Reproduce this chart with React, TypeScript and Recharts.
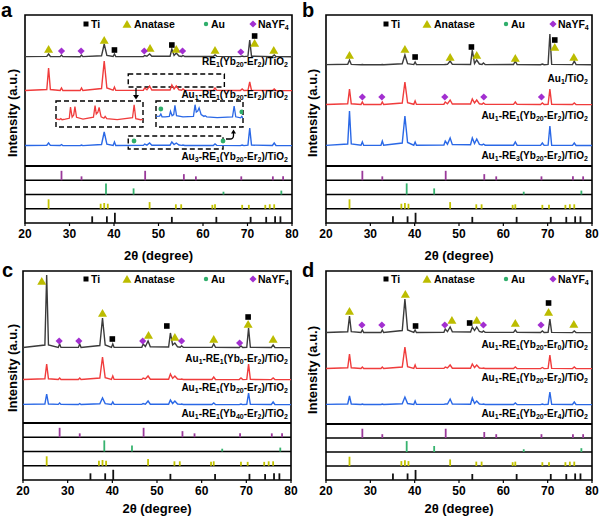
import React from 'react';
import {
  ComposedChart,
  LineChart,
  Line,
  Scatter,
  XAxis,
  YAxis,
  ReferenceLine,
  ReferenceArea,
} from 'recharts';

const FONT = '"Liberation Sans", Arial, Helvetica, sans-serif';
const BLACK = '#3b3b3b';
const RED = '#f03c3c';
const BLUE = '#2a68e6';
const TI_C = '#000000';
const ANA_C = '#bcbc00';
const AU_C = '#2fae6b';
const NAYF_C = '#a22fd0';

// 2θ sampling shared by all patterns
const twoTheta = [20, 24.9, 25.3, 25.7, 27.9, 28.2, 28.5, 32.4, 32.7, 33.0, 37.2, 37.8, 38.4, 39.8, 40.1, 40.4,
  46.6, 46.9, 47.4, 48.0, 48.5, 52.6, 53.0, 53.5, 54.0, 54.6, 55.2, 55.5, 55.9, 62.3, 62.7, 63.1,
  68.4, 68.8, 69.2, 70.1, 70.5, 70.9, 75.6, 76.0, 76.4, 80];

// panel a
const aRE1 = [0.4, 0.6, 3, 0.5, 0.4, 2, 0.4, 0.3, 2, 0.4, 1.2, 13, 1.5, 0.5, 3, 0.4, 0.5, 1.5, 0.8, 3, 0.7,
  0.8, 8, 1.5, 4, 1, 0.6, 1.5, 0.5, 0.5, 2, 0.6, 0.4, 1, 0.4, 0.8, 17, 0.8, 0.4, 2, 0.4, 0.3];
const aAu1 = [0.5, 1.5, 23, 1.5, 0.6, 3, 0.5, 0.5, 3, 0.5, 2.5, 30, 3, 0.8, 4, 0.6, 0.8, 3, 1.2, 5, 1,
  1, 6, 2, 5, 1.2, 0.8, 2, 0.6, 0.6, 3, 0.6, 0.5, 2, 0.5, 0.6, 9, 0.6, 0.5, 2, 0.4, 0.4];
const aAu3 = [0.5, 0.7, 3, 0.6, 0.5, 1.5, 0.5, 0.4, 1, 0.4, 1.5, 14, 1.8, 0.6, 4, 0.5, 0.6, 2, 0.9, 3, 0.8,
  0.8, 4, 1.5, 3, 1, 0.6, 1, 0.5, 0.5, 2, 0.6, 0.4, 1, 0.4, 0.9, 18, 0.9, 0.5, 3, 0.5, 0.4];

// panel b
const bAu1 = [0.4, 0.8, 5, 0.6, 0.3, 0.5, 0.3, 0.3, 0.5, 0.3, 1.2, 10, 1.3, 0.4, 3, 0.4, 0.4, 0.5, 0.6, 4, 0.6,
  0.5, 15, 1.5, 5, 1, 0.6, 2, 0.4, 0.5, 4, 0.5, 0.3, 1, 0.3, 0.6, 31, 0.6, 0.4, 4, 0.4, 0.3];
const bAu1RE1 = [0.5, 1.2, 16, 1.2, 0.6, 3, 0.5, 0.5, 3, 0.5, 2, 23, 2.4, 0.7, 4, 0.6, 0.8, 3, 1.2, 5, 1,
  1, 6, 2, 5, 1.2, 0.8, 2, 0.6, 0.6, 3, 0.6, 0.5, 2, 0.5, 0.6, 16, 0.6, 0.5, 2, 0.4, 0.4];
const bAu1RE3 = [0.6, 2, 35, 2, 0.7, 4, 0.6, 0.7, 5, 0.7, 3, 30, 3.5, 0.8, 4, 0.7, 1, 5, 1.8, 8, 1.4,
  1.2, 8, 2.5, 7, 1.6, 1, 2, 0.8, 0.8, 4, 0.8, 0.6, 3, 0.6, 0.8, 20, 0.8, 0.6, 3, 0.5, 0.5];

// panel c
const cYb0 = [0.5, 3, 73, 3, 0.6, 4, 0.6, 0.6, 4, 0.6, 2.5, 30, 3, 0.6, 4, 0.6, 0.8, 4, 1.5, 7, 1.2,
  1, 15, 3, 5, 1.2, 0.8, 2, 0.6, 0.6, 4, 0.6, 0.5, 2, 0.5, 0.7, 20, 0.7, 0.5, 3, 0.5, 0.4];
const cYb20 = [0.5, 1.2, 16, 1.2, 0.5, 2, 0.5, 0.5, 2, 0.5, 2, 23, 2.4, 0.6, 4, 0.6, 0.6, 2, 1, 4, 0.8,
  0.8, 6, 1.6, 4, 1, 0.6, 1, 0.5, 0.5, 3, 0.5, 0.4, 2, 0.4, 0.6, 16, 0.6, 0.4, 2, 0.4, 0.4];
const cYb40 = [0.6, 1, 11, 1, 0.6, 2, 0.6, 0.5, 1.5, 0.5, 1.2, 7, 1.4, 0.6, 3, 0.6, 0.6, 1.5, 0.9, 4, 0.8,
  0.8, 5, 1.5, 4, 1, 0.6, 1, 0.5, 0.5, 2, 0.5, 0.4, 1, 0.4, 0.7, 12, 0.7, 0.5, 3, 0.5, 0.4];

// panel d
const dEr0 = [0.5, 1.3, 17, 1.3, 0.6, 3, 0.5, 0.5, 3, 0.5, 2.5, 34, 3, 0.6, 3, 0.5, 0.8, 4, 1.4, 6, 1.1,
  1, 6, 2.5, 6, 1.5, 0.8, 2, 0.6, 0.6, 3, 0.6, 0.5, 2, 0.5, 0.6, 14, 0.6, 0.4, 2, 0.4, 0.4];
const dEr2 = [0.5, 1.2, 15, 1.2, 0.5, 2, 0.5, 0.5, 2, 0.5, 2, 22, 2.4, 0.6, 4, 0.6, 0.6, 2, 1, 4, 0.8,
  0.8, 5, 1.5, 4, 1, 0.6, 1, 0.5, 0.5, 2, 0.5, 0.4, 1.5, 0.4, 0.6, 14, 0.6, 0.4, 2, 0.4, 0.4];
const dEr4 = [0.6, 1, 9, 1, 0.5, 1, 0.5, 0.5, 1, 0.5, 1.3, 8, 1.5, 0.6, 4, 0.6, 0.6, 1, 1, 6, 0.9,
  0.8, 7, 1.5, 4, 1, 0.6, 1, 0.5, 0.5, 2, 0.5, 0.4, 1, 0.4, 0.7, 13, 0.7, 0.5, 3, 0.5, 0.4];

// inset of panel a (zoom 43-65°)
const insetTheta = [43.3, 44.2, 44.5, 44.8, 45.6, 46.6, 46.9, 47.3, 47.7, 48.0, 48.4, 50.0, 52.6, 53.0,
  53.3, 53.7, 54.0, 54.5, 55.2, 55.5, 55.9, 58.5, 62.3, 62.7, 63.1, 64.3, 64.6, 64.9];
const insetRed = [0.18, 0.15, 0.2, 0.14, 0.17, 0.22, 0.82, 0.28, 0.4, 0.85, 0.27, 0.17, 0.28, 0.9,
  0.45, 0.55, 0.8, 0.3, 0.22, 0.32, 0.2, 0.15, 0.25, 0.95, 0.2, 0.14, 0.16, 0.13];
const insetBlue = [0.32, 0.34, 0.45, 0.3, 0.3, 0.32, 0.6, 0.36, 0.42, 0.92, 0.36, 0.3, 0.32, 0.95,
  0.55, 0.62, 0.78, 0.42, 0.32, 0.36, 0.3, 0.26, 0.3, 0.88, 0.3, 0.24, 0.32, 0.22];
const insetAu = [[44.5, 0.72], [64.6, 0.56]];

// phase markers [2θ, level]
const aTi = [[40.1, 116], [53.0, 121], [71.6, 130]];
const aAna = [[25.3, 117], [37.8, 126], [48.1, 118], [54.0, 117], [62.7, 116], [71.6, 123], [75.9, 116]];
const aNayf = [[28.2, 115], [32.6, 115], [46.8, 115], [55.4, 115], [68.5, 114]];
const aAu = [[44.5, 25], [64.5, 25]];
const bTi = [[40.1, 109], [52.8, 119], [71.6, 126]];
const bAna = [[25.3, 111], [37.8, 117], [48.0, 109], [54.0, 111], [62.7, 108], [71.6, 119], [75.9, 109]];
const bNayf = [[28.2, 69], [32.6, 69], [46.8, 69], [55.6, 69], [68.6, 69]];
const cTi = [[40.0, 84], [52.2, 97], [70.4, 106]];
const cAna = [[24.2, 142], [37.8, 110], [48.1, 88], [54.0, 86], [62.7, 84], [70.4, 99], [76.0, 84]];
const cNayf = [[28.1, 82], [32.5, 82], [46.8, 82], [55.5, 82], [68.5, 80]];
const dTi = [[40.2, 98], [52.4, 101], [70.2, 121]];
const dAna = [[25.3, 113], [37.9, 130], [48.4, 104], [54.0, 104], [62.7, 101], [70.2, 112], [75.9, 100]];
const dNayf = [[28.1, 99], [32.6, 99], [46.8, 99], [55.5, 99], [68.5, 99]];

// standard cards [2θ, relative intensity]
const nayf4Card = [[28.2, 85], [32.7, 35], [47.0, 85], [55.7, 55], [58.4, 35], [68.6, 35], [75.7, 35], [78.0, 35]];
const auCard = [[38.2, 100], [44.4, 55], [64.6, 25], [77.6, 35]];
const anataseCard = [[25.3, 85], [37.0, 45], [37.8, 52], [38.6, 45], [48.0, 60], [53.9, 40], [55.1, 40],
  [62.1, 35], [62.7, 40], [68.8, 35], [70.3, 35], [74.0, 35], [75.0, 40], [76.0, 40]];
const tiCard = [[35.1, 60], [38.4, 60], [40.2, 92], [53.0, 55], [63.0, 55], [70.7, 55], [74.2, 55], [76.2, 60], [77.4, 60]];

const xTicks = [20, 30, 40, 50, 60, 70, 80];

const cards = [
  { pts: nayf4Card, color: '#9a3a9a' },
  { pts: auCard, color: '#37b36f' },
  { pts: anataseCard, color: '#c4c400' },
  { pts: tiCard, color: '#111111' },
];

const toRows = (vals: number[], offset: number) => twoTheta.map((x, i) => ({ x, y: offset + vals[i] }));
const toPts = (arr: number[][]) => arr.map(([x, y]) => ({ x, y }));

const renderSub = (s: string) =>
  s.split(/_(\d+)/).map((part, i) =>
    i % 2 ? (
      <sub key={i} style={{ fontSize: 7, verticalAlign: 'baseline', position: 'relative', top: 2 }}>{part}</sub>
    ) : (
      <span key={i}>{part}</span>
    )
  );

const Tri = (p: any) => (
  <polygon points={`${p.cx - 4.5},${p.cy + 3.8} ${p.cx + 4.5},${p.cy + 3.8} ${p.cx},${p.cy - 4}`} fill={ANA_C} />
);
const Sq = (p: any) => <rect x={p.cx - 2.8} y={p.cy - 2.8} width={5.6} height={5.6} fill={TI_C} />;
const Dia = (p: any) => (
  <polygon points={`${p.cx},${p.cy - 3.6} ${p.cx + 3.6},${p.cy} ${p.cx},${p.cy + 3.6} ${p.cx - 3.6},${p.cy}`} fill={NAYF_C} />
);
const Dot = (p: any) => <circle cx={p.cx} cy={p.cy} r={2.4} fill={AU_C} />;

const panels = [
  {
    id: 'a', left: 0, top: 0, plotLeft: 25, plotRight: 292, plotTop: 15, mainBottom: 166, refBottom: 223,
    legendY: 24, yTitleY: 113, xTitleY: 255,
    series: [
      { values: aRE1, color: BLACK, offset: 109, label: 'RE_1(Yb_20-Er_2)/TiO_2', labelY: 62 },
      { values: aAu1, color: RED, offset: 75, label: 'Au_1-RE_1(Yb_20-Er_2)/TiO_2', labelY: 95 },
      { values: aAu3, color: BLUE, offset: 20, label: 'Au_3-RE_1(Yb_20-Er_2)/TiO_2', labelY: 157 },
    ],
    ti: aTi, ana: aAna, nayf: aNayf, au: aAu, inset: true,
  },
  {
    id: 'b', left: 300, top: 0, plotLeft: 26, plotRight: 292, plotTop: 15, mainBottom: 166, refBottom: 223,
    legendY: 24, yTitleY: 113, xTitleY: 255,
    series: [
      { values: bAu1, color: BLACK, offset: 101, label: 'Au_1/TiO_2', labelY: 79 },
      { values: bAu1RE1, color: RED, offset: 61, label: 'Au_1-RE_1(Yb_20-Er_2)/TiO_2', labelY: 116 },
      { values: bAu1RE3, color: BLUE, offset: 20, label: 'Au_1-RE_3(Yb_20-Er_2)/TiO_2', labelY: 156 },
    ],
    ti: bTi, ana: bAna, nayf: bNayf, au: [], inset: false,
  },
  {
    id: 'c', left: 0, top: 260, plotLeft: 23, plotRight: 291, plotTop: 11, mainBottom: 163, refBottom: 220,
    legendY: 19, yTitleY: 108, xTitleY: 248,
    series: [
      { values: cYb0, color: BLACK, offset: 75, label: 'Au_1-RE_1(Yb_0-Er_2)/TiO_2', labelY: 99 },
      { values: cYb20, color: RED, offset: 43, label: 'Au_1-RE_1(Yb_20-Er_2)/TiO_2', labelY: 128 },
      { values: cYb40, color: BLUE, offset: 18, label: 'Au_1-RE_1(Yb_40-Er_2)/TiO_2', labelY: 154 },
    ],
    ti: cTi, ana: cAna, nayf: cNayf, au: [], inset: false,
  },
  {
    id: 'd', left: 300, top: 260, plotLeft: 26, plotRight: 292, plotTop: 11, mainBottom: 164, refBottom: 220,
    legendY: 19, yTitleY: 110, xTitleY: 248,
    series: [
      { values: dEr0, color: BLACK, offset: 91, label: 'Au_1-RE_1(Yb_20-Er_0)/TiO_2', labelY: 85 },
      { values: dEr2, color: RED, offset: 55, label: 'Au_1-RE_1(Yb_20-Er_2)/TiO_2', labelY: 118 },
      { values: dEr4, color: BLUE, offset: 19, label: 'Au_1-RE_1(Yb_20-Er_4)/TiO_2', labelY: 154 },
    ],
    ti: dTi, ana: dAna, nayf: dNayf, au: [], inset: false,
  },
];

const legendItems = [
  { label: 'Ti', cx: 86, tx: 91, shape: 'sq' },
  { label: 'Anatase', cx: 127, tx: 134, shape: 'tri' },
  { label: 'Au', cx: 206, tx: 211, shape: 'dot' },
  { label: 'NaYF_4', cx: 253, tx: 258, shape: 'dia' },
];

function LegendSymbol({ shape }: { shape: string }) {
  const p = { cx: 5, cy: 5 };
  return (
    <svg width={10} height={10} style={{ display: 'block' }}>
      {shape === 'sq' && <rect x={2.5} y={2.5} width={5} height={5} fill={TI_C} />}
      {shape === 'tri' && Tri(p)}
      {shape === 'dot' && <circle cx={5} cy={5} r={2.2} fill={AU_C} />}
      {shape === 'dia' && Dia(p)}
    </svg>
  );
}

function Inset({ left, top, values, color, au }: { left: number; top: number; values: number[]; color: string; au: boolean }) {
  const rows = insetTheta.map((x, i) => ({ x, y: values[i] }));
  return (
    <div style={{ position: 'absolute', left, top }}>
      <LineChart width={89} height={28} margin={{ top: 1, right: 1, bottom: 1, left: 1 }}>
        <XAxis dataKey="x" type="number" domain={[43.3, 64.9]} hide allowDataOverflow />
        <YAxis dataKey="y" type="number" domain={[-0.25, 1.15]} hide allowDataOverflow />
        <ReferenceArea x1={43.3} x2={64.9} y1={-0.25} y2={1.15} fill="none" stroke="#000" strokeWidth={1.4}
          strokeDasharray="5 3" />
        <Line data={rows} dataKey="y" stroke={color} strokeWidth={1.3} dot={false} activeDot={false}
          isAnimationActive={false} />
        {au && <Scatter data={toPts(insetAu)} dataKey="y" shape={Dot} isAnimationActive={false} />}
      </LineChart>
    </div>
  );
}

function Panel({ cfg }: { cfg: any }) {
  const ymax = cfg.mainBottom - cfg.plotTop;
  const ymin = -(cfg.refBottom - cfg.mainBottom);
  const subH = (cfg.refBottom - cfg.mainBottom) / 4;
  const stickMax = subH * 0.78;
  return (
    <div style={{ position: 'absolute', left: cfg.left, top: cfg.top, width: 300, height: 260, fontFamily: FONT }}>
      <ComposedChart width={300} height={260}
        margin={{ top: cfg.plotTop, right: 300 - cfg.plotRight, left: cfg.plotLeft, bottom: 260 - cfg.refBottom - 34 }}>
        <XAxis dataKey="x" type="number" domain={[20, 80]} ticks={xTicks} interval={0} height={34}
          allowDataOverflow axisLine={false} tickLine={{ stroke: '#000', strokeWidth: 1.2 }} tickSize={3}
          tickMargin={3} tick={{ fontSize: 12, fontWeight: 700, fill: '#000', fontFamily: FONT }} />
        <YAxis dataKey="y" type="number" domain={[ymin, ymax]} hide allowDataOverflow />
        {[1, 2, 3].map((k) => (
          <ReferenceLine key={'sep' + k} y={-k * subH} stroke="#000" strokeWidth={1.5} />
        ))}
        <ReferenceLine y={0} stroke="#000" strokeWidth={1.8} />
        {cards.map((card, ci) =>
          card.pts.map(([x, I]) => {
            const base = -(ci + 1) * subH;
            return (
              <ReferenceLine key={`st${ci}-${x}`} segment={[{ x, y: base }, { x, y: base + (I / 100) * stickMax }]}
                stroke={card.color} strokeWidth={1.8} />
            );
          })
        )}
        <ReferenceArea x1={20} x2={80} y1={ymin} y2={ymax} fill="none" stroke="#000" strokeWidth={1.6} />
        {cfg.inset && (
          <ReferenceArea x1={43.2} x2={64.8} y1={79} y2={92} fill="none" stroke="#000" strokeWidth={1.4}
            strokeDasharray="5 3" />
        )}
        {cfg.inset && (
          <ReferenceArea x1={43.2} x2={64.5} y1={17} y2={30} fill="none" stroke="#000" strokeWidth={1.4}
            strokeDasharray="5 3" />
        )}
        {cfg.series.map((s: any, i: number) => (
          <Line key={'s' + i} data={toRows(s.values, s.offset)} dataKey="y" stroke={s.color} strokeWidth={1.4}
            dot={false} activeDot={false} isAnimationActive={false} />
        ))}
        <Scatter data={toPts(cfg.ana)} dataKey="y" shape={Tri} isAnimationActive={false} />
        <Scatter data={toPts(cfg.ti)} dataKey="y" shape={Sq} isAnimationActive={false} />
        <Scatter data={toPts(cfg.nayf)} dataKey="y" shape={Dia} isAnimationActive={false} />
        {cfg.au.length > 0 && <Scatter data={toPts(cfg.au)} dataKey="y" shape={Dot} isAnimationActive={false} />}
      </ComposedChart>

      {cfg.inset && (
        <>
          <Inset left={55} top={100} values={insetRed} color={RED} au={false} />
          <Inset left={155} top={100} values={insetBlue} color={BLUE} au={true} />
          <svg width={300} height={260} style={{ position: 'absolute', left: 0, top: 0, pointerEvents: 'none' }}>
            <line x1={136} y1={88} x2={136} y2={96} stroke="#000" strokeWidth={1.3} />
            <polygon points="133,95 139,95 136,99.5" fill="#000" />
            <path d="M226 139 H230 Q233.5 139 233.5 135.5 V133" fill="none" stroke="#000" strokeWidth={1.3} />
            <polygon points="231,133.5 236,133.5 233.5,129.5" fill="#000" />
          </svg>
        </>
      )}

      {/* panel letter */}
      <div style={{ position: 'absolute', left: cfg.id === 'a' ? 1 : 2, top: 0, fontSize: 20, lineHeight: '20px',
        fontWeight: 700 }}>{cfg.id}</div>

      {/* legend */}
      {legendItems.map((it) => (
        <React.Fragment key={it.label}>
          <div style={{ position: 'absolute', left: it.cx - 5, top: cfg.legendY - 5 }}>
            <LegendSymbol shape={it.shape} />
          </div>
          <div style={{ position: 'absolute', left: it.tx, top: cfg.legendY - 7, fontSize: 10.5, lineHeight: '14px',
            fontWeight: 700, whiteSpace: 'nowrap' }}>{renderSub(it.label)}</div>
        </React.Fragment>
      ))}

      {/* series labels */}
      {cfg.series.map((s: any, i: number) => (
        <div key={'l' + i} style={{ position: 'absolute', right: 12, top: s.labelY - 7, fontSize: 10, lineHeight: '14px',
          fontWeight: 700, whiteSpace: 'nowrap' }}>{renderSub(s.label)}</div>
      ))}

      {/* axis titles */}
      <div style={{ position: 'absolute', left: 12, top: cfg.yTitleY, transform: 'translate(-50%, -50%) rotate(-90deg)',
        fontSize: 13, fontWeight: 700, whiteSpace: 'nowrap' }}>Intensity (a.u.)</div>
      <div style={{ position: 'absolute', left: (cfg.plotLeft + cfg.plotRight) / 2, top: cfg.xTitleY,
        transform: 'translate(-50%, -50%)', fontSize: 13, fontWeight: 700, whiteSpace: 'nowrap' }}>2θ (degree)</div>
    </div>
  );
}

export default function App() {
  return (
    <div style={{ position: 'absolute', left: 0, top: 0, width: 600, height: 520, background: '#fff', overflow: 'hidden' }}>
      {panels.map((p) => (
        <Panel key={p.id} cfg={p} />
      ))}
    </div>
  );
}
